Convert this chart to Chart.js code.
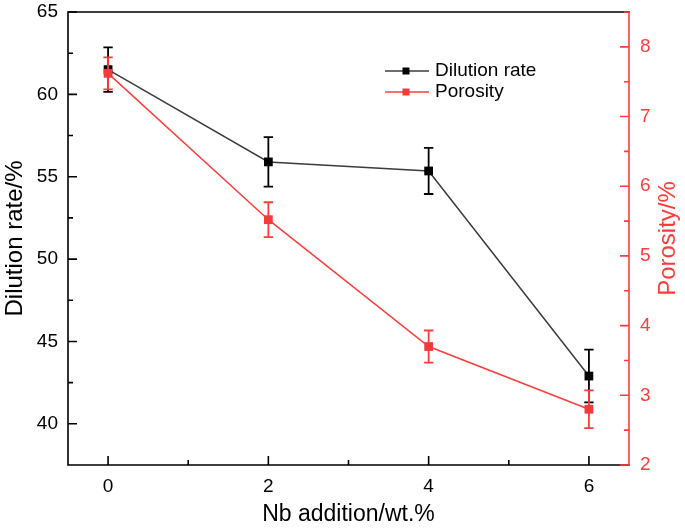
<!DOCTYPE html>
<html>
<head>
<meta charset="utf-8">
<script src="https://cdn.jsdelivr.net/npm/chart.js@4"></script>
<style>
  html, body { margin: 0; padding: 0; background: #fff; }
</style>
</head>
<body>
<canvas id="chart" width="685" height="528"></canvas>
<script>
// data
const nbAddition = [0, 2, 4, 6];
const dilutionRate = [61.5, 55.9, 55.35, 42.9];
const dilutionErr = [1.35, 1.5, 1.4, 1.6];
const porosity = [7.62, 5.52, 3.70, 2.80];
const porosityErr = [0.23, 0.25, 0.23, 0.27];

const xTicks = [0, 2, 4, 6];
const xMinor = [1, 3, 5];
const leftTicks = [40, 45, 50, 55, 60, 65];
const leftMinor = [42.5, 47.5, 52.5, 57.5, 62.5];
const rightTicks = [2, 3, 4, 5, 6, 7, 8];
const rightMinor = [2.5, 3.5, 4.5, 5.5, 6.5, 7.5, 8.5];

const FONT = '"Liberation Sans", Arial, sans-serif';
const RED = '#ff3c3c';
const BLACK = '#000000';

function toPoints(ys) {
  return nbAddition.map((x, i) => ({ x: x, y: ys[i] }));
}

// fixed axis box sizes so the plot area lands where the original has it
function fixWidth(w) {
  return s => { s.width = w; s.paddingTop = 0; s.paddingBottom = 0; };
}

// error bars, frame, inward ticks, right title and legend
const decorPlugin = {
  id: 'decor',
  beforeDatasetDraw(chart, args) {
    const ds = chart.data.datasets[args.index];
    const xs = chart.scales.x;
    const ys = chart.scales[ds.yAxisID];
    const ctx = chart.ctx;
    ctx.save();
    ctx.strokeStyle = ds.errColor;
    ctx.lineWidth = 1.8;
    ds.data.forEach((p, i) => {
      const x = xs.getPixelForValue(p.x);
      const yLo = ys.getPixelForValue(p.y - ds.errorBars[i]);
      const yHi = ys.getPixelForValue(p.y + ds.errorBars[i]);
      ctx.beginPath();
      ctx.moveTo(x, yLo); ctx.lineTo(x, yHi);
      ctx.moveTo(x - 4.7, yLo); ctx.lineTo(x + 4.7, yLo);
      ctx.moveTo(x - 4.7, yHi); ctx.lineTo(x + 4.7, yHi);
      ctx.stroke();
    });
    ctx.restore();
  },
  afterDraw(chart) {
    const ctx = chart.ctx;
    const a = chart.chartArea;
    const xs = chart.scales.x, yl = chart.scales.y, yr = chart.scales.y1;
    ctx.save();
    ctx.lineWidth = 1.6;
    ctx.lineCap = 'square';

    // black frame: left, top, bottom
    ctx.strokeStyle = BLACK;
    ctx.beginPath();
    ctx.moveTo(a.right, a.top); ctx.lineTo(a.left, a.top);
    ctx.lineTo(a.left, a.bottom); ctx.lineTo(a.right, a.bottom);
    ctx.stroke();

    // x ticks (inward)
    ctx.lineCap = 'butt';
    ctx.beginPath();
    xTicks.forEach(v => { const x = xs.getPixelForValue(v); ctx.moveTo(x, a.bottom); ctx.lineTo(x, a.bottom - 9); });
    xMinor.forEach(v => { const x = xs.getPixelForValue(v); ctx.moveTo(x, a.bottom); ctx.lineTo(x, a.bottom - 5); });
    // left ticks
    leftTicks.forEach(v => { const y = yl.getPixelForValue(v); ctx.moveTo(a.left, y); ctx.lineTo(a.left + 9, y); });
    leftMinor.forEach(v => { const y = yl.getPixelForValue(v); ctx.moveTo(a.left, y); ctx.lineTo(a.left + 5, y); });
    ctx.stroke();

    // red right axis
    ctx.strokeStyle = RED;
    ctx.beginPath();
    ctx.moveTo(a.right, a.top); ctx.lineTo(a.right, a.bottom);
    rightTicks.forEach(v => { const y = yr.getPixelForValue(v); ctx.moveTo(a.right, y); ctx.lineTo(a.right - 9, y); });
    rightMinor.forEach(v => { const y = yr.getPixelForValue(v); ctx.moveTo(a.right, y); ctx.lineTo(a.right - 5, y); });
    ctx.stroke();

    // right axis title, reading bottom to top
    ctx.fillStyle = RED;
    ctx.font = '24px ' + FONT;
    ctx.textAlign = 'center';
    ctx.textBaseline = 'middle';
    ctx.translate(668, (a.top + a.bottom) / 2);
    ctx.rotate(-Math.PI / 2);
    ctx.fillText('Porosity/%', 0, 0);
    ctx.restore();

    // legend: line with marker
    ctx.save();
    ctx.font = '19px ' + FONT;
    ctx.textBaseline = 'middle';
    ctx.textAlign = 'left';
    chart.data.datasets.slice().sort((p, q) => q.order - p.order).forEach((ds, i) => {
      const y = 71 + i * 21;
      ctx.strokeStyle = ds.borderColor;
      ctx.lineWidth = 1.5;
      ctx.beginPath();
      ctx.moveTo(385, y); ctx.lineTo(429, y);
      ctx.stroke();
      ctx.fillStyle = ds.pointBackgroundColor;
      ctx.fillRect(402.5, y - 3.5, 7, 7);
      ctx.fillStyle = '#000';
      ctx.fillText(ds.label, 435, y);
    });
    ctx.restore();
  }
};

const ctx = document.getElementById('chart').getContext('2d');
new Chart(ctx, {
  type: 'line',
  data: {
    datasets: [{
      label: 'Dilution rate',
      data: toPoints(dilutionRate),
      errorBars: dilutionErr,
      errColor: BLACK,
      yAxisID: 'y',
      order: 1,
      borderColor: '#3c3c3c',
      borderWidth: 1.5,
      pointStyle: 'rect',
      pointRadius: 6.2,
      pointBorderWidth: 0,
      pointBackgroundColor: BLACK,
      tension: 0
    }, {
      label: 'Porosity',
      data: toPoints(porosity),
      errorBars: porosityErr,
      errColor: RED,
      yAxisID: 'y1',
      order: 0,
      borderColor: RED,
      borderWidth: 1.5,
      pointStyle: 'rect',
      pointRadius: 6.2,
      pointBorderWidth: 0,
      pointBackgroundColor: '#f23c3c',
      tension: 0
    }]
  },
  options: {
    responsive: false,
    animation: false,
    layout: { padding: { top: 12, left: 0, right: 0, bottom: 0 } },
    plugins: {
      legend: { display: false },
      tooltip: { enabled: false }
    },
    scales: {
      x: {
        type: 'linear',
        position: 'bottom',
        min: -0.5,
        max: 6.5,
        afterBuildTicks: s => { s.ticks = xTicks.map(v => ({ value: v })); },
        afterFit: s => { s.height = 63; },
        grid: { display: false, drawTicks: false },
        border: { display: false },
        ticks: { color: '#000', padding: 10, font: { family: FONT, size: 19 } },
        title: { display: true, text: 'Nb addition/wt.%', color: '#000', padding: { top: 0, bottom: 0 }, font: { family: FONT, size: 23 } }
      },
      y: {
        position: 'left',
        min: 37.5,
        max: 65,
        afterBuildTicks: s => { s.ticks = leftTicks.map(v => ({ value: v })); },
        afterFit: fixWidth(68),
        grid: { display: false, drawTicks: false },
        border: { display: false },
        ticks: { color: '#000', padding: 10, font: { family: FONT, size: 19 } },
        title: { display: true, text: 'Dilution rate/%', color: '#000', padding: { top: 3, bottom: 0 }, font: { family: FONT, size: 24, lineHeight: 1 } }
      },
      y1: {
        position: 'right',
        min: 2,
        max: 8.5,
        afterBuildTicks: s => { s.ticks = rightTicks.map(v => ({ value: v })); },
        afterFit: fixWidth(56),
        grid: { display: false, drawTicks: false },
        border: { display: false },
        ticks: { color: RED, padding: 11, font: { family: FONT, size: 19 } }
      }
    }
  },
  plugins: [decorPlugin]
});
</script>
</body>
</html>
